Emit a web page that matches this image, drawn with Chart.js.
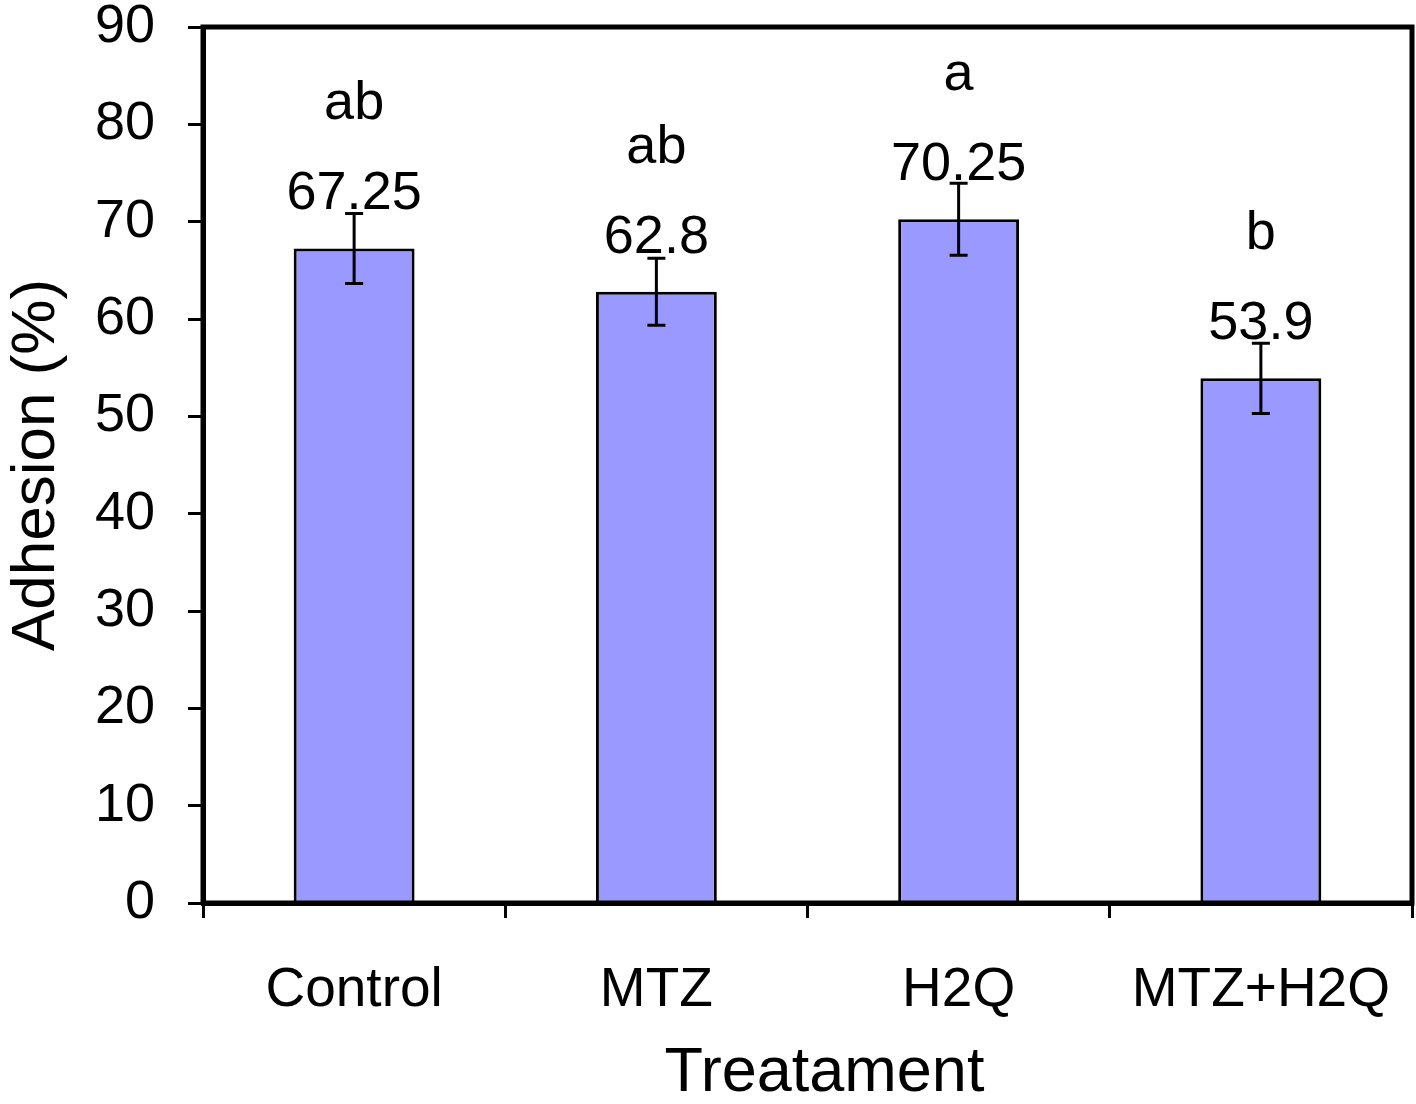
<!DOCTYPE html>
<html>
<head>
<meta charset="utf-8">
<script src="https://cdn.jsdelivr.net/npm/chart.js@4.4.1/dist/chart.umd.min.js"></script>
<style>
  html, body { margin: 0; padding: 0; background: #fff; }
  #wrap { width: 1416px; height: 1104px; position: relative; }
</style>
</head>
<body>
<div id="wrap"><canvas id="adhesionChart"></canvas></div>
<script>
// ---- data ----
const categories = ['Control', 'MTZ', 'H2Q', 'MTZ+H2Q'];
const adhesion = [67.25, 62.8, 70.25, 53.9];
const errors = [3.6, 3.45, 3.7, 3.6];
const groupLetters = ['ab', 'ab', 'a', 'b'];
const yTicks = [0, 10, 20, 30, 40, 50, 60, 70, 80, 90];
const xTitle = 'Treatament';

const fontFamily = '"Liberation Sans", Arial, Helvetica, sans-serif';
const barFill = '#9999FF';

// error bars + value labels + significance letters, frame, x title
const annotatePlugin = {
    id: 'annotate',
    afterDatasetsDraw(chart) {
        const ctx = chart.ctx;
        const meta = chart.getDatasetMeta(0);
        const y = chart.scales.y;
        ctx.save();
        meta.data.forEach(function(bar, i) {
            const x = bar.x;
            const hi = y.getPixelForValue(adhesion[i] + errors[i]);
            const lo = y.getPixelForValue(adhesion[i] - errors[i]);
            ctx.strokeStyle = '#000';
            ctx.lineWidth = 3;
            ctx.beginPath();
            ctx.moveTo(x, hi); ctx.lineTo(x, lo);
            ctx.moveTo(x - 9, hi); ctx.lineTo(x + 9, hi);
            ctx.moveTo(x - 9, lo); ctx.lineTo(x + 9, lo);
            ctx.stroke();

            ctx.fillStyle = '#000';
            ctx.font = '54px ' + fontFamily;
            ctx.textAlign = 'center';
            ctx.textBaseline = 'alphabetic';
            const base = bar.y - 39;
            ctx.fillText(String(adhesion[i]), x, base);
            ctx.fillText(groupLetters[i], x, base - 90);
        });
        ctx.restore();
    },
    afterDraw(chart) {
        const a = chart.chartArea;
        const ctx = chart.ctx;
        ctx.save();
        ctx.strokeStyle = '#000';
        ctx.lineWidth = 5;
        ctx.beginPath();
        ctx.moveTo(a.left, a.bottom);
        ctx.lineTo(a.left, a.top);
        ctx.lineTo(a.right, a.top);
        ctx.lineTo(a.right, a.bottom);
        ctx.lineTo(a.left, a.bottom);
        ctx.stroke();

        // x axis title, centred a little right of the plot like the original
        ctx.fillStyle = '#000';
        ctx.font = '63px ' + fontFamily;
        ctx.textAlign = 'center';
        ctx.textBaseline = 'alphabetic';
        ctx.fillText(xTitle, (a.left + a.right) / 2 + 17, chart.height - 13);
        ctx.restore();
    }
};

function noOverflow(scale) {
    scale.paddingTop = 0; scale.paddingBottom = 0;
    scale.paddingLeft = 0; scale.paddingRight = 0;
}

document.addEventListener('DOMContentLoaded', function() {
    const ctx = document.getElementById('adhesionChart').getContext('2d');
    new Chart(ctx, {
        type: 'bar',
        data: {
            labels: categories,
            datasets: [{
                label: 'Adhesion (%)',
                data: adhesion,
                backgroundColor: barFill,
                borderColor: '#000',
                borderWidth: 3,
                categoryPercentage: 1.0,
                barPercentage: 0.4
            }]
        },
        options: {
            responsive: true,
            maintainAspectRatio: false,
            animation: false,
            layout: { padding: { top: 27, right: 4, left: 0, bottom: 0 } },
            plugins: { legend: { display: false }, tooltip: { enabled: false } },
            scales: {
                x: {
                    grid: { display: true, drawOnChartArea: false, drawTicks: true, tickLength: 15, color: '#000', lineWidth: 3, offset: true },
                    border: { display: true, color: '#000', width: 5 },
                    ticks: { color: '#000', font: { family: fontFamily, size: 55 }, padding: 40 },
                    title: { display: false },
                    afterFit: function(scale) { scale.height = 201; noOverflow(scale); }
                },
                y: {
                    min: 0, max: 90,
                    afterBuildTicks: function(scale) { scale.ticks = yTicks.map(v => ({ value: v })); },
                    grid: { display: true, drawOnChartArea: false, drawTicks: true, tickLength: 15, color: '#000', lineWidth: 3 },
                    border: { display: true, color: '#000', width: 5 },
                    ticks: { color: '#000', font: { family: fontFamily, size: 54 }, padding: 33 },
                    title: { display: true, text: 'Adhesion (%)', color: '#000', font: { family: fontFamily, size: 62 }, padding: 0 },
                    afterFit: function(scale) { scale.width = 203; noOverflow(scale); }
                }
            }
        },
        plugins: [annotatePlugin]
    });
});
</script>
</body>
</html>
